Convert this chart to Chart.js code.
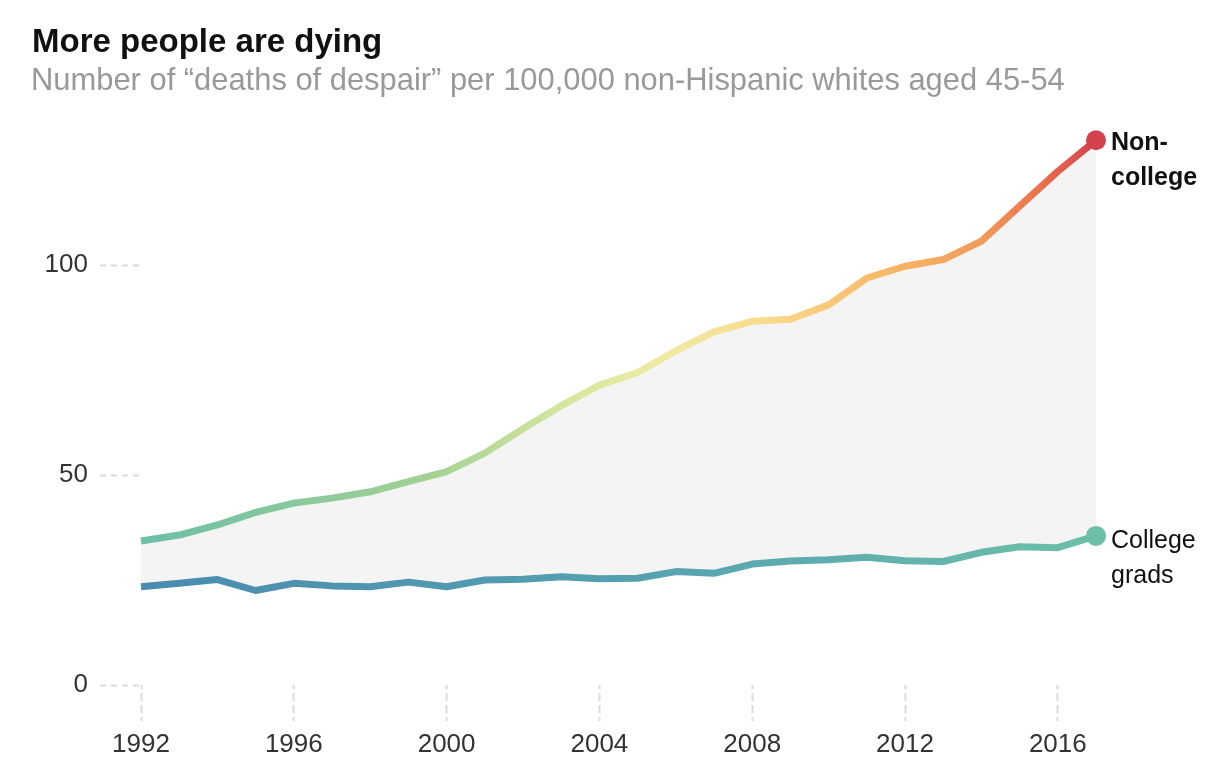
<!DOCTYPE html>
<html>
<head>
<meta charset="utf-8">
<script src="https://cdn.jsdelivr.net/npm/chart.js@4.4.1/dist/chart.umd.min.js"></script>
<style>
  html, body { margin: 0; padding: 0; background: #fff; }
  #wrap { position: relative; width: 1221px; height: 774px; overflow: hidden; }
  #title { position: absolute; left: 32px; top: 22px; font: bold 33px "Liberation Sans", Arial, sans-serif; color: #111; line-height: 38px; white-space: nowrap; }
  #subtitle { position: absolute; left: 31px; top: 61px; font: 30.9px "Liberation Sans", Arial, sans-serif; color: #999; line-height: 38px; white-space: nowrap; }
  #c { position: absolute; left: 0; top: 0; }
</style>
</head>
<body>
<div id="wrap">
  <canvas id="c" width="1221" height="774"></canvas>
  <div id="title">More people are dying</div>
  <div id="subtitle">Number of “deaths of despair” per 100,000 non-Hispanic whites aged 45-54</div>
</div>
<script>
const years = [1992, 1993, 1994, 1995, 1996, 1997, 1998, 1999, 2000, 2001, 2002, 2003, 2004,
               2005, 2006, 2007, 2008, 2009, 2010, 2011, 2012, 2013, 2014, 2015, 2016, 2017];
const nonCollege = [34.3, 35.7, 38.1, 41.1, 43.3, 44.5, 46.0, 48.4, 50.8, 55.2, 61.0, 66.5, 71.4,
                    74.4, 79.6, 84.1, 86.6, 87.1, 90.5, 96.9, 99.7, 101.3, 105.7, 114.0, 122.3, 129.7];
const collegeGrads = [23.4, 24.2, 25.1, 22.5, 24.2, 23.6, 23.4, 24.5, 23.4, 25.0, 25.2, 25.8, 25.3,
                      25.4, 27.0, 26.6, 28.8, 29.5, 29.8, 30.4, 29.6, 29.4, 31.6, 32.9, 32.7, 35.5];
const xTickYears = [1992, 1996, 2000, 2004, 2008, 2012, 2016];
const yTickValues = [0, 50, 100];
const seriesLabels = [["Non-", "college"], ["College", "grads"]];

const FONT = '"Liberation Sans", Arial, sans-serif';

function toPoints(vals) { return years.map((y, i) => ({ x: y, y: vals[i] })); }

const gradCache = {};
function hGradient(chart, key, stops) {
  const area = chart.chartArea;
  if (!area) return stops[0][1];
  const id = key + area.left + ',' + area.right;
  if (gradCache[id]) return gradCache[id];
  const g = chart.ctx.createLinearGradient(area.left, 0, area.right, 0);
  stops.forEach(s => g.addColorStop(s[0], s[1]));
  gradCache[id] = g;
  return g;
}
const upperStops = [[0, '#6cbea6'], [0.3, '#a2d194'], [0.45, '#d8e79e'], [0.55, '#f0eaa2'],
                    [0.65, '#f8dc8e'], [0.78, '#f6b967'], [0.88, '#f19a5a'], [0.94, '#e9734d'], [1, '#d3414d']];
const lowerStops = [[0, '#4a8bb0'], [0.5, '#55a0b0'], [1, '#6cbfa9']];

const lastIdx = years.length - 1;

const endLabels = {
  id: 'endLabels',
  afterDatasetsDraw(chart) {
    const ctx = chart.ctx;
    ctx.save();
    ctx.fillStyle = '#111';
    ctx.textBaseline = 'middle';
    ctx.textAlign = 'left';
    chart.data.datasets.forEach((ds, di) => {
      const el = chart.getDatasetMeta(di).data[lastIdx];
      ctx.font = (di === 0 ? 'bold ' : '') + '25px ' + FONT;
      const lines = seriesLabels[di];
      const off = di === 0 ? 3 : 5;
      lines.forEach((t, li) => ctx.fillText(t, el.x + 15, el.y + off + li * 35));
    });
    ctx.restore();
  }
};

new Chart(document.getElementById('c'), {
  type: 'line',
  data: {
    datasets: [
      {
        label: 'Non-college',
        data: toPoints(nonCollege),
        borderColor: c => hGradient(c.chart, 'u', upperStops),
        borderWidth: 7,
        borderJoinStyle: 'round',
        tension: 0,
        fill: { target: 1 },
        backgroundColor: '#f4f4f4',
        pointRadius: c => c.dataIndex === lastIdx ? 10 : 0,
        pointBackgroundColor: '#d3414d',
        pointBorderWidth: 0,
        pointHoverRadius: 0,
        clip: false
      },
      {
        label: 'College grads',
        data: toPoints(collegeGrads),
        borderColor: c => hGradient(c.chart, 'l', lowerStops),
        borderWidth: 7,
        borderJoinStyle: 'round',
        tension: 0,
        fill: false,
        pointRadius: c => c.dataIndex === lastIdx ? 10 : 0,
        pointBackgroundColor: '#6cbfa9',
        pointBorderWidth: 0,
        pointHoverRadius: 0,
        clip: false
      }
    ]
  },
  options: {
    responsive: false,
    animation: false,
    events: [],
    layout: { padding: { top: 139, right: 125, left: 0, bottom: 0 } },
    plugins: {
      legend: { display: false },
      tooltip: { enabled: false },
      filler: { drawTime: 'beforeDatasetsDraw' }
    },
    scales: {
      x: {
        type: 'linear',
        min: 1992,
        max: 2017,
        afterBuildTicks: s => { s.ticks = xTickYears.map(v => ({ value: v })); },
        afterFit: s => { s.height = 89; },
        border: { display: false },
        grid: {
          drawOnChartArea: false,
          drawTicks: true,
          tickLength: 36,
          tickColor: '#dcdcdc',
          tickWidth: 2,
          tickBorderDash: [8, 4],
          tickBorderDashOffset: 4
        },
        ticks: {
          padding: 8,
          color: '#333',
          font: { family: FONT, size: 26 },
          callback: v => String(v),
          maxRotation: 0,
          autoSkip: false
        }
      },
      y: {
        min: 0,
        max: 130,
        afterBuildTicks: s => { s.ticks = yTickValues.map(v => ({ value: v })); },
        afterFit: s => { s.width = 141; },
        border: { display: false },
        grid: {
          drawOnChartArea: false,
          drawTicks: true,
          tickLength: 41,
          tickColor: '#dcdcdc',
          tickWidth: 2,
          tickBorderDash: [6, 5]
        },
        ticks: {
          padding: 12,
          color: '#333',
          font: { family: FONT, size: 26 },
          callback: v => String(v)
        }
      }
    }
  },
  plugins: [endLabels]
});
</script>
</body>
</html>
